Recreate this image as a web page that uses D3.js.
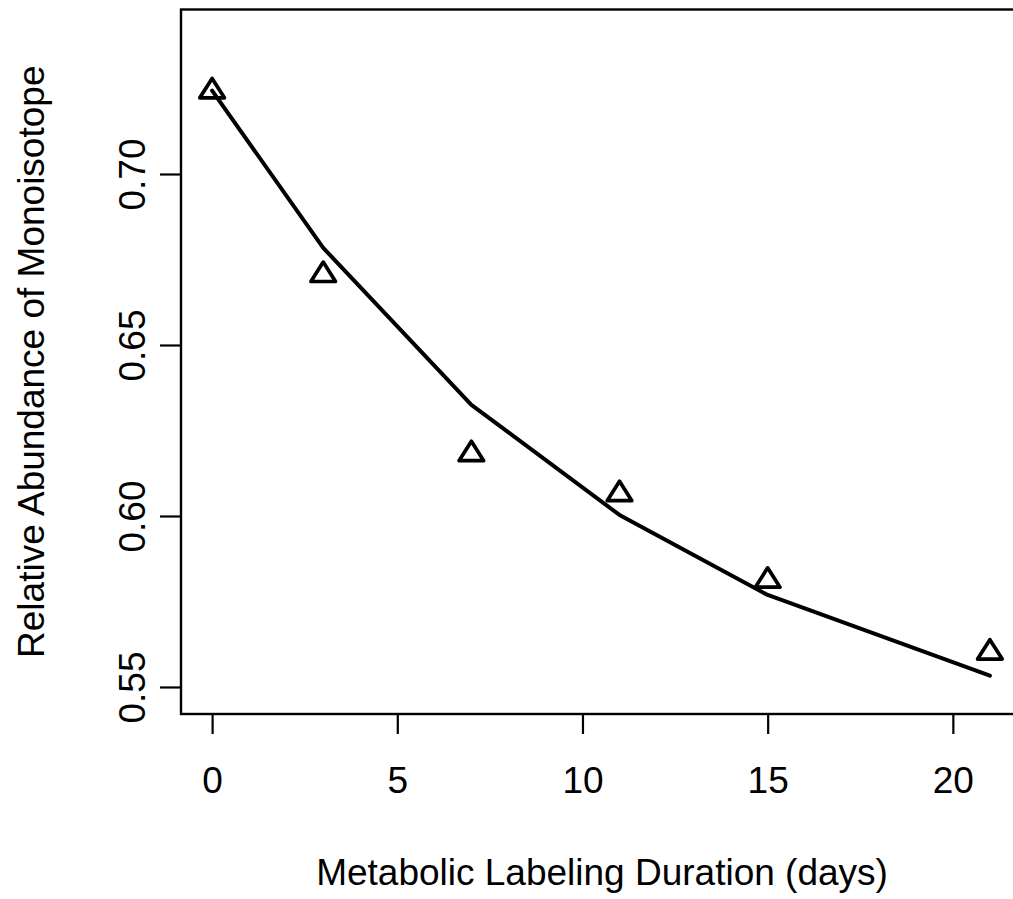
<!DOCTYPE html>
<html><head><meta charset="utf-8">
<script src="https://cdn.jsdelivr.net/npm/d3@7"></script>
<style>html,body{margin:0;padding:0;background:#fff;}svg{display:block;}</style>
</head><body>
<svg id="chart" width="1013" height="899"></svg>
<script>
const days = [0, 3, 7, 11, 15, 21];
const observed = [0.7242, 0.6705, 0.6181, 0.6064, 0.5811, 0.5601];
const fitted = [0.7244, 0.6784, 0.6325, 0.6003, 0.5769, 0.5533];
const xTicks = [0, 5, 10, 15, 20];
const yTicks = [0.55, 0.60, 0.65, 0.70];
const xLabel = "Metabolic Labeling Duration (days)";
const yLabel = "Relative Abundance of Monoisotope";

(function () {
const svg = d3.select("#chart");
const font = "'Liberation Sans', Arial, Helvetica, sans-serif";
const fs = 37;
const pLeft = 181, pRight = 1021, pTop = 9.5, pBottom = 714;
const x = d3.scaleLinear().domain([-0.84, 21.84]).range([pLeft, pRight]);
const y = d3.scaleLinear().domain([0.5421, 0.7481]).range([pBottom, pTop]);

// fitted line
svg.append("path")
  .datum(days.map((d, i) => [d, fitted[i]]))
  .attr("d", d3.line().x(d => x(d[0])).y(d => y(d[1])))
  .attr("fill", "none").attr("stroke", "#000").attr("stroke-width", 4)
  .attr("stroke-linejoin", "round").attr("stroke-linecap", "round");

// triangles
const hw = 12.3, up = 12.8, dn = 6.6;
svg.selectAll("path.tri").data(days).join("path").attr("class", "tri")
  .attr("d", (d, i) => {
    const cx = x(d), cy = y(observed[i]);
    return `M${cx},${cy - up}L${cx + hw},${cy + dn}L${cx - hw},${cy + dn}Z`;
  })
  .attr("fill", "none").attr("stroke", "#000").attr("stroke-width", 3.7)
  .attr("stroke-linejoin", "round");

// box
svg.append("rect").attr("x", pLeft).attr("y", pTop)
  .attr("width", pRight - pLeft).attr("height", pBottom - pTop)
  .attr("fill", "none").attr("stroke", "#000").attr("stroke-width", 2.4);

// x axis
const xAxis = d3.axisBottom(x).tickValues(xTicks).tickSize(20).tickPadding(0)
  .tickFormat(d3.format("d"));
const gx = svg.append("g").attr("transform", `translate(0,${pBottom})`).call(xAxis);
gx.select(".domain").remove();
gx.selectAll(".tick line").attr("stroke", "#000").attr("stroke-width", 2.2);
gx.selectAll(".tick text").attr("font-family", font).attr("font-size", fs)
  .attr("fill", "#000").attr("y", 79).attr("dy", 0);

// y axis
const yAxis = d3.axisLeft(y).tickValues(yTicks).tickSize(21).tickPadding(0)
  .tickFormat(d3.format(".2f"));
const gy = svg.append("g").attr("transform", `translate(${pLeft},0)`).call(yAxis);
gy.select(".domain").remove();
gy.selectAll(".tick line").attr("stroke", "#000").attr("stroke-width", 2.2);
gy.selectAll(".tick text").attr("font-family", font).attr("font-size", fs)
  .attr("fill", "#000").attr("text-anchor", "middle")
  .attr("x", 0).attr("dy", 0)
  .attr("transform", "translate(-36,0) rotate(-90)");

// axis titles
svg.append("text").attr("x", 602).attr("y", 885)
  .attr("text-anchor", "middle").attr("font-family", font).attr("font-size", fs)
  .attr("fill", "#000").text(xLabel);
svg.append("text").attr("transform", `translate(44,${(pTop + pBottom) / 2}) rotate(-90)`)
  .attr("text-anchor", "middle").attr("font-family", font).attr("font-size", fs)
  .attr("fill", "#000").text(yLabel);
})();
</script>
</body></html>
